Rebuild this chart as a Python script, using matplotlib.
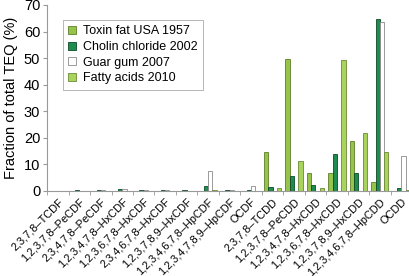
import numpy as np
import matplotlib.pyplot as plt

"""Data"""
congeners = ["2,3,7,8–TCDF", "1,2,3,7,8–PeCDF", "2,3,4,7,8–PeCDF",
             "1,2,3,4,7,8–HxCDF", "1,2,3,6,7,8–HxCDF", "2,3,4,6,7,8–HxCDF",
             "1,2,3,7,8,9–HxCDF", "1,2,3,4,6,7,8–HpCDF", "1,2,3,4,7,8,9–HpCDF",
             "OCDF", "2,3,7,8–TCDD", "1,2,3,7,8–PeCDD", "1,2,3,4,7,8–HxCDD",
             "1,2,3,6,7,8–HxCDD", "1,2,3,7,8,9–HxCDD", "1,2,3,4,6,7,8–HpCDD",
             "OCDD"]

toxin_fat = [0.0, 0.0, 0.1, 0.0, 0.0, 0.0, 0.0, 0.0, 0.0, 0.0,
             14.5, 49.5, 6.9, 6.9, 18.7, 3.3, 0.0]
cholin = [0.1, 0.2, 0.3, 0.7, 0.4, 0.4, 0.2, 1.8, 0.3, 0.3,
          1.5, 5.8, 2.2, 13.9, 6.9, 64.8, 1.1]
guar_gum = [0.1, 0.1, 0.2, 0.7, 0.2, 0.2, 0.1, 7.7, 0.3, 1.9,
            0.0, 0.0, 0.0, 0.0, 0.0, 63.5, 13.0]
fatty_acids = [0.1, 0.1, 0.1, 0.1, 0.1, 0.1, 0.1, 0.2, 0.1, 0.1,
               1.2, 11.3, 1.0, 49.3, 21.9, 14.5, 0.2]

series = [("Toxin fat USA 1957", toxin_fat, "#96c44a", "#5f7f2a"),
          ("Cholin chloride 2002", cholin, "#1e8c4e", "#0e4a28"),
          ("Guar gum 2007", guar_gum, "#ffffff", "#8a8a8a"),
          ("Fatty acids 2010", fatty_acids, "#a8d35c", "#6a8a35")]

"""Plot"""
plt.rcParams['font.family'] = 'Liberation Sans'
fig = plt.figure(figsize=(4.1, 2.76), dpi=100)
ax = fig.add_axes([0.115, 0.308, 0.89, 0.674])

x = np.arange(len(congeners))
w = 0.2
for i, (name, vals, fc, ec) in enumerate(series):
    ax.bar(x + (i - 1.5) * w, vals, w, color=fc, edgecolor=ec,
           linewidth=0.6, label=name)

ax.set_xlim(-0.5, len(congeners) - 0.5)
ax.set_ylim(0, 70)
ax.set_yticks(np.arange(0, 71, 10))
ax.set_xticks(x)
ax.set_xticklabels(congeners, rotation=45, ha="right",
                   rotation_mode="anchor", fontsize=7.9)
ax.set_xticks(np.arange(-0.5, len(congeners), 1), minor=True)
ax.tick_params(axis="x", which="major", length=0, pad=4)
ax.tick_params(axis="x", which="minor", length=3, color="#999999")
ax.tick_params(axis="y", labelsize=10.5, length=3, color="#999999", pad=2)
ax.set_ylabel("Fraction of total TEQ (%)", fontsize=10.5, labelpad=4)

for s in ["top", "right"]:
    ax.spines[s].set_visible(False)
for s in ["left", "bottom"]:
    ax.spines[s].set_color("#999999")
    ax.spines[s].set_linewidth(0.8)

leg = ax.legend(loc="upper left", bbox_to_anchor=(0.025, 0.955),
                fontsize=9, handlelength=0.6, handleheight=0.6,
                handletextpad=0.6, labelspacing=0.3, borderpad=0.45,
                fancybox=False, framealpha=1)
leg.get_frame().set_edgecolor("#aaaaaa")
leg.get_frame().set_linewidth(0.6)

plt.savefig("out.png", dpi=100)
